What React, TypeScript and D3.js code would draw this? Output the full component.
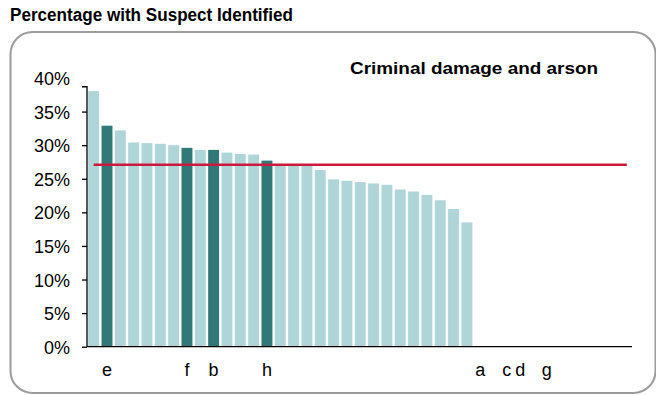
import React, { useEffect, useRef } from "react";
import * as d3 from "d3";

// category labels (blank ones are unnamed areas)
const categories = [
  "", "e", "", "", "", "", "", "f", "", "b", "", "", "", "h",
  "", "", "", "", "", "", "", "", "", "", "", "", "", "", "",
  "a", "", "c", "d", "", "g", "", "", "", "", "", "",
];

// percentage with suspect identified, sorted; areas after index 28 have no value
const values = [
  38.05, 32.9, 32.2, 30.4, 30.3, 30.2, 30.0, 29.6, 29.3, 29.3, 28.9, 28.7,
  28.6, 27.7, 27.2, 27.1, 27.1, 26.3, 24.9, 24.7, 24.5, 24.3, 24.1, 23.4,
  23.1, 22.6, 21.8, 20.5, 18.5,
];

const average = 27.1;
const yTicks = [0, 5, 10, 15, 20, 25, 30, 35, 40];
const axisTopValue = 38.7;

const W = 656;
const H = 395;
const FONT = "'Liberation Sans', Arial, Helvetica, sans-serif";

export default function App() {
  const axisRef = useRef<SVGGElement>(null);

  const x = d3
    .scaleBand<number>()
    .domain(d3.range(categories.length))
    .range([87, 633.5])
    .paddingInner(0.18)
    .paddingOuter(0.09);
  const y = d3.scaleLinear().domain([0, 40]).range([346.7, 78]);

  useEffect(() => {
    const g = d3.select(axisRef.current);
    g.selectAll("*").remove();
    g.call(
      d3
        .axisLeft(y)
        .tickValues(yTicks)
        .tickFormat((d) => d + "%")
        .tickSize(5)
        .tickSizeOuter(0)
        .tickPadding(12)
    );
    g.attr("font-size", 18).attr("font-family", FONT);
    g.select(".domain").remove();
    g.selectAll(".tick line").attr("stroke", "#000").attr("stroke-width", 1.3);
    g.selectAll(".tick")
      .filter((d) => d === 40)
      .select("line")
      .remove();
    g.selectAll(".tick text").attr("fill", "#000").attr("dy", "0.36em");
    g.append("path")
      .attr("d", `M-5,${y(axisTopValue)}H0V${y(0)}`)
      .attr("fill", "none")
      .attr("stroke", "#000")
      .attr("stroke-width", 1.3);
  }, []);

  const step = x.step();
  const half = x.bandwidth() / 2;

  return (
    <svg
      width={W}
      height={H}
      style={{ position: "absolute", left: 0, top: 0, background: "#fff" }}
    >
      <text
        x={10}
        y={21}
        fontFamily={FONT}
        fontWeight="bold"
        fontSize={18}
        textLength={283}
        lengthAdjust="spacingAndGlyphs"
      >
        Percentage with Suspect Identified
      </text>
      <rect
        x={10.5}
        y={32}
        width={645}
        height={361}
        rx={22}
        fill="none"
        stroke="#9c9c9c"
        strokeWidth={2}
      />
      <text
        x={350}
        y={74}
        fontFamily={FONT}
        fontWeight="bold"
        fontSize={17}
        textLength={248}
        lengthAdjust="spacingAndGlyphs"
      >
        Criminal damage and arson
      </text>

      {values.map((v, i) => (
        <rect
          key={i}
          x={x(i)}
          y={y(v)}
          width={x.bandwidth()}
          height={y(0) - y(v)}
          fill={categories[i] ? "#317878" : "#b0d5d8"}
        />
      ))}

      <line
        x1={x(0)! + half}
        x2={x(categories.length - 1)! + half}
        y1={y(average)}
        y2={y(average)}
        stroke="#cc1a3c"
        strokeWidth={2.5}
      />

      <line
        x1={87}
        x2={87 + step * categories.length - 1.5}
        y1={y(0)}
        y2={y(0)}
        stroke="#000"
        strokeWidth={1.3}
      />
      <g ref={axisRef} transform="translate(87,0)" />

      {categories.map((c, i) =>
        c ? (
          <text
            key={i}
            x={x(i)! + half}
            y={376}
            textAnchor="middle"
            fontFamily={FONT}
            fontSize={18}
          >
            {c}
          </text>
        ) : null
      )}
    </svg>
  );
}
